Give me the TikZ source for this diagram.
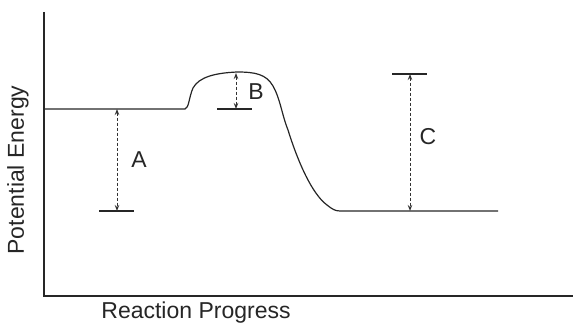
\documentclass[tikz,border=0pt]{standalone}
\usepackage{fontspec}
\setmainfont{Liberation Sans}
\usetikzlibrary{arrows.meta}
\begin{document}
\begin{tikzpicture}[x=1pt,y=-1pt,
  axis/.style={line width=1.2pt,draw=black!85},
  curve/.style={line width=1.2pt,draw=black!85},
  tick/.style={line width=1.1pt,draw=black!85},
  dim/.style={line width=0.9pt,draw=black!80,densely dashed,{Stealth[length=6pt,width=4.5pt,open,line width=0.9pt,sep=0pt]}-{Stealth[length=6pt,width=4.5pt,open,line width=0.9pt,sep=0pt]}},
  lbl/.style={font=\fontsize{23}{26}\selectfont,text=black!85,inner sep=0pt}]
\useasboundingbox (0,0) rectangle (573,326);
% axes
\coordinate (ytop) at (44,12);
\coordinate (origin) at (44,296);
\coordinate (xend) at (573,296);
\draw[axis] (ytop) -- (origin) -- (xend);
% energy curve
\draw[curve] (44,109) -- (185,109) .. controls (189,108) and (189,97) .. (193,88)
  .. controls (199,77) and (215,73) .. (237,72)
  .. controls (255,72) and (266,74) .. (273,86)
  .. controls (280,98) and (282,115) .. (288,130)
  .. controls (298,162) and (312,194) .. (327,205)
  .. controls (332,209) and (335,211) .. (340,211) -- (498,211);
% reference ticks
\coordinate (a1) at (117,109);
\coordinate (a2) at (117,211);
\coordinate (at1) at (99,211);
\coordinate (at2) at (134,211);
\draw[tick] (at1) -- (at2);
\coordinate (b1) at (236,73);
\coordinate (b2) at (236,109);
\coordinate (bt1) at (217,109);
\coordinate (bt2) at (252,109);
\draw[tick] (bt1) -- (bt2);
\coordinate (c1) at (410,74);
\coordinate (c2) at (410,211);
\coordinate (ct1) at (392,74);
\coordinate (ct2) at (427,74);
\draw[tick] (ct1) -- (ct2);
% dimension arrows
\draw[dim] (a1) -- (a2);
\draw[dim] (b1) -- (b2);
\draw[dim] (c1) -- (c2);
% labels
\node[lbl] (la) at (139,160) {A};
\node[lbl] (lb) at (256,92) {B};
\node[lbl] (lc) at (428,137) {C};
\node[lbl,rotate=90] (ly) at (18,170) {Potential Energy};
\node[lbl] (lx) at (196,313) {Reaction Progress};
\end{tikzpicture}
\end{document}
